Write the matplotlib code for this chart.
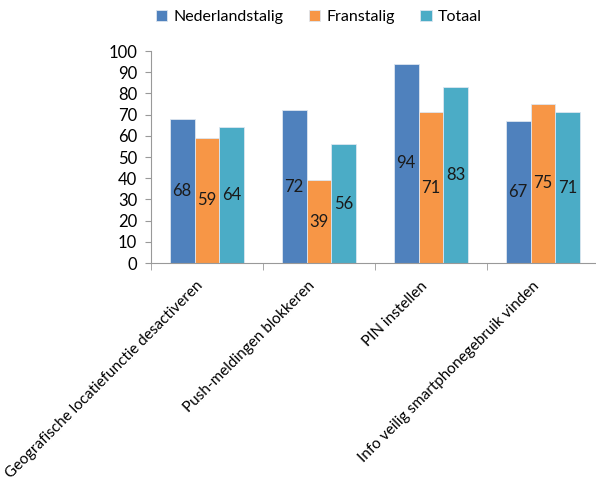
import matplotlib.pyplot as plt
import numpy as np
from matplotlib.transforms import ScaledTranslation

plt.rcParams['font.family'] = ['Lato', 'DejaVu Sans']

categories = ['Geografische locatiefunctie desactiveren', 'Push-meldingen blokkeren',
              'PIN instellen', 'Info veilig smartphonegebruik vinden']
series = ['Nederlandstalig', 'Franstalig', 'Totaal']
nl = [68, 72, 94, 67]
fr = [59, 39, 71, 75]
tot = [64, 56, 83, 71]
colors = ['#4F81BD', '#F79646', '#4BACC6']

fig = plt.figure(figsize=(5.96, 4.83), dpi=100)
ax = fig.add_axes([151/596, 220/483, 448/596, 212/483])

x = np.arange(len(categories))
w = 0.223
for i, (vals, name, col) in enumerate(zip([nl, fr, tot], series, colors)):
    bars = ax.bar(x + (i - 1) * w, vals, w, color=col, label=name,
                  edgecolor='#dde6f0', linewidth=0.6)
    for b, v in zip(bars, vals):
        ax.text(b.get_x() + b.get_width() / 2, v / 2, str(v), ha='center', va='center',
                fontsize=12, color='#1a1a1a')

ax.set_xlim(-0.5, len(categories) - 0.5)
ax.set_ylim(0, 100)
ax.set_yticks(range(0, 101, 10))
ax.tick_params(axis='y', labelsize=12, length=4, color='#999999', pad=6)
ax.set_xticks(np.arange(len(categories) + 1) - 0.5, minor=True)
ax.set_xticks(x)
ax.set_xticklabels(categories, rotation=45, ha='right', va='center', rotation_mode='anchor', fontsize=11)
ax.tick_params(axis='x', which='major', length=0, pad=15)
ax.tick_params(axis='x', which='minor', length=5, color='#999999')
for lbl in ax.get_xticklabels():
    lbl.set_transform(lbl.get_transform() + ScaledTranslation(-6/100, 0, fig.dpi_scale_trans))
for s in ['top', 'right']:
    ax.spines[s].set_visible(False)
for s in ['left', 'bottom']:
    ax.spines[s].set_color('#999999')

fig.legend(loc='upper center', bbox_to_anchor=(0.535, 1.01), ncol=3, frameon=False,
           fontsize=11.5, handlelength=0.7, handleheight=0.7, columnspacing=1.6, handletextpad=0.4)

fig.savefig('out.png', dpi=100)
